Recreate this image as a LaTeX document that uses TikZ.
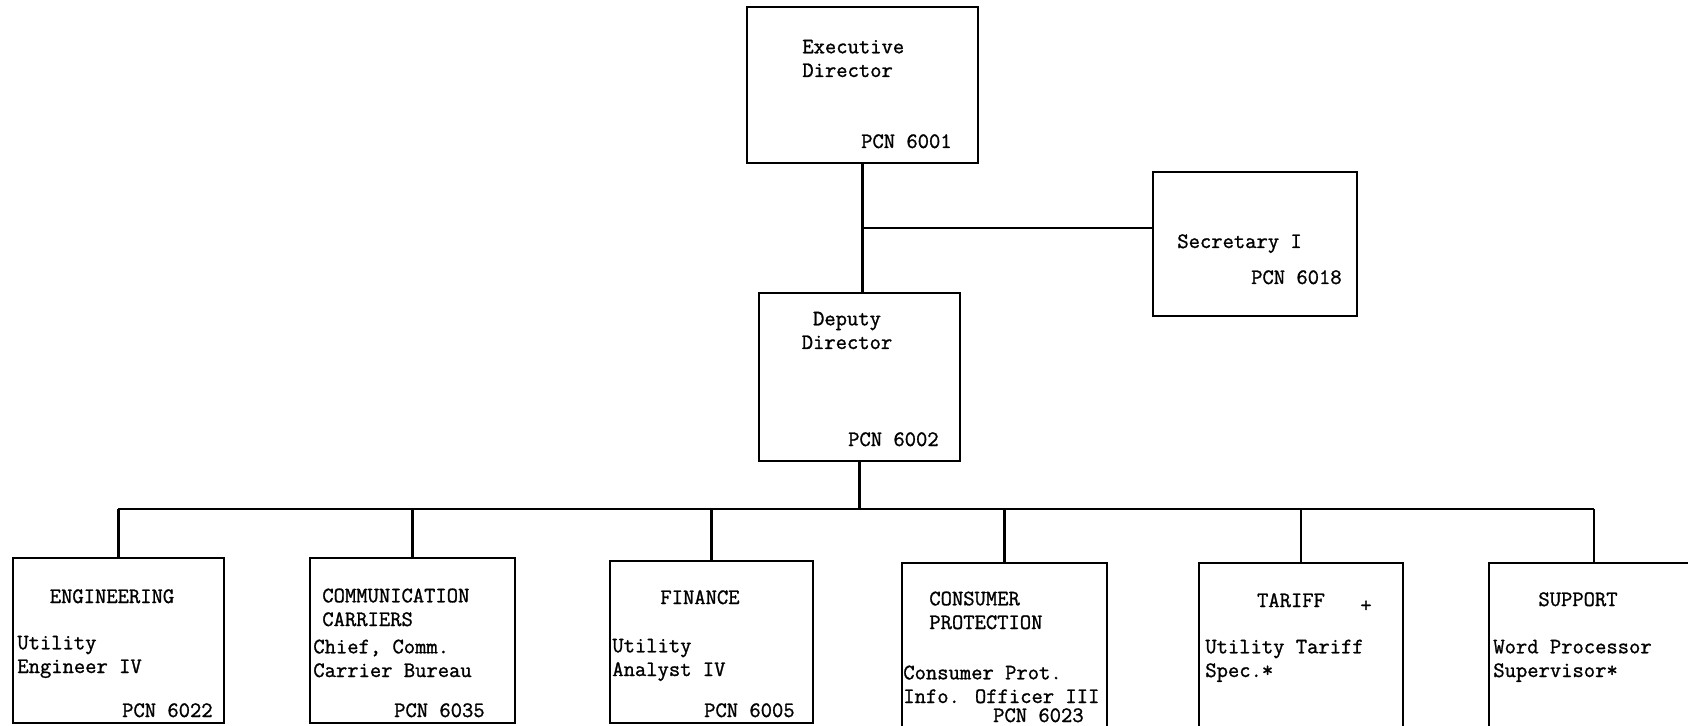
\documentclass[tikz,border=0pt]{standalone}
\usepackage{fontspec}
\usepackage{tikz}
\usetikzlibrary{calc}

\newfontfamily\typewfont[FakeBold=1.2]{Latin Modern Mono}
\newcommand{\typefont}{\typewfont\fontsize{12.5}{13.5}\selectfont}

\begin{document}
\begin{tikzpicture}[
    x=0.02cm, y=-0.02cm,
    box/.style   = {rectangle, draw, line width=1.2pt, inner sep=0pt,
                    outer sep=0pt, anchor=north west},
    unit/.style  = {box, minimum height=3.28cm},
    txt/.style   = {font=\typefont, inner sep=0pt, align=left,
                    anchor=base west},
    head/.style  = {txt, align=center, anchor=base},
    pcn/.style   = {txt, anchor=base east},
    link/.style  = {line width=1.2pt}
]
\useasboundingbox (0,0) rectangle (1688,726);
\clip (0,0) rectangle (1688,726);

% ========= top of the chart =========
% (base of a two-line text is the base of its last line)
\node[box, minimum width=4.62cm, minimum height=3.12cm] (exec) at (747,7)   {};
\node[box, minimum width=4.08cm, minimum height=2.88cm] (sec)  at (1153,172) {};
\node[box, minimum width=4.02cm, minimum height=3.36cm] (dep)  at (759,293) {};

\node[txt] (execT) at (802,77)  {Executive\\Director};
\node[pcn] (execP) at (952,148) {PCN 6001};
\node[txt] (secT)  at (1177,248) {Secretary I};
\node[pcn] (secP)  at (1342,284) {PCN 6018};
\node[head] (depT) at (847,349) {Deputy\\Director};
\node[pcn] (depP)  at (939,446) {PCN 6002};

% ========= divisions =========
\node[unit, minimum width=4.22cm, minimum height=3.30cm] (eng)  at (13,558)  {};
\node[unit, minimum width=4.10cm, minimum height=3.30cm] (comm) at (310,558) {};
\node[unit, minimum width=4.06cm, minimum height=3.24cm] (fin)  at (610,561) {};
\node[unit, minimum width=4.10cm] (cons) at (902,563)  {};
\node[unit, minimum width=4.08cm] (tar)  at (1199,563) {};
\node[unit, minimum width=4.20cm] (sup)  at (1489,563) {};

\node[head] (engH)  at (112,603) {ENGINEERING};
\node[txt]  (engT)  at (17,673)  {Utility\\Engineer IV};
\node[pcn]  (engP)  at (213,717) {PCN 6022};

\node[txt]  (commH) at (322,626) {COMMUNICATION\\CARRIERS};
\node[txt]  (commT) at (313,677) {Chief, Comm.\\Carrier Bureau};
\node[pcn]  (commP) at (485,717) {PCN 6035};

\node[head] (finH)  at (700,604) {FINANCE};
\node[txt]  (finT)  at (612,676) {Utility\\Analyst IV};
\node[pcn]  (finP)  at (795,717) {PCN 6005};

\node[txt]  (consH) at (929,629) {CONSUMER\\PROTECTION};
\node[txt]  (consT) at (903,703) {Consumer Prot.\\Info. Officer III};
\node[pcn]  (consP) at (1084,722) {PCN 6023};

\node[head] (tarH)  at (1291,607) {TARIFF};
\node[txt]  (tarM)  at (1360,612) {+};
\node[txt]  (tarT)  at (1205,677) {Utility Tariff\\Spec.*};

\node[head] (supH)  at (1578,606) {SUPPORT};
\node[txt]  (supT)  at (1493,677) {Word Processor\\Supervisor*};

% ========= connectors =========
\coordinate (secjoin) at (861,228);
\coordinate (bus)     at (861,509);

\draw[link] (exec.south) -- (exec.south |- dep.north);
\draw[link] (secjoin) -- (secjoin -| sec.west);
\draw[link] (dep.south) -- (dep.south |- bus);
\draw[link] (eng.north |- bus) -- (sup.north |- bus);
\draw[link] (eng.north)  -- (eng.north |- bus);
\draw[link] (comm.north) -- (comm.north |- bus);
\draw[link] (fin.north)  -- (fin.north |- bus);
\draw[link] (cons.north) -- (cons.north |- bus);
\draw[link] (tar.north)  -- (tar.north |- bus);
\draw[link] (sup.north)  -- (sup.north |- bus);

\end{tikzpicture}
\end{document}
